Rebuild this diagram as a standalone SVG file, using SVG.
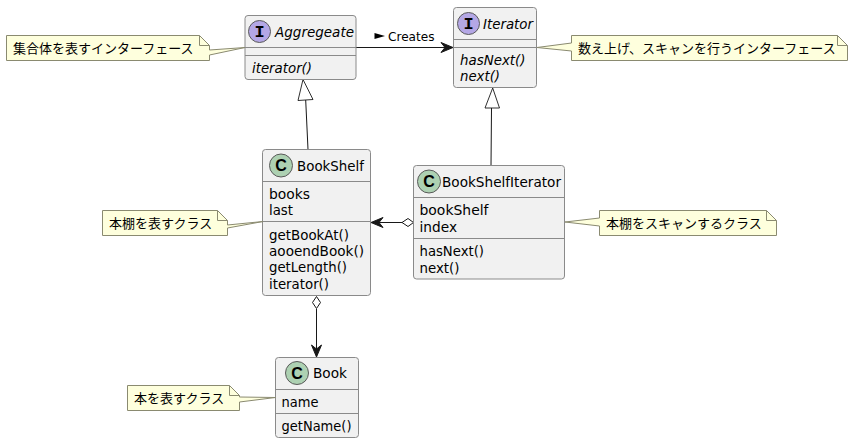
<svg xmlns="http://www.w3.org/2000/svg" width="858" height="443" viewBox="0 0 858 443">
<style>
text{font-family:"DejaVu Sans","Noto Sans CJK JP",sans-serif;fill:#000}
.m{font-size:14px}
.i{font-style:italic}
.n{font-size:13px;font-family:"Noto Sans CJK JP",sans-serif}
.b{fill:#F1F1F1;stroke:#8a8a8a;stroke-width:1}
.d{stroke:#8a8a8a;stroke-width:1;fill:none}
.note{fill:#FEFFDD;stroke:#8a8a70;stroke-width:1}
.fold{fill:none;stroke:#8a8a70;stroke-width:1}
.ci{fill:#ADD1B2;stroke:#5a5a5a;stroke-width:1}
.ii{fill:#B4A7E5;stroke:#5a5a5a;stroke-width:1}
.l{stroke:#181818;stroke-width:1;fill:none}
.g{font-size:17px;font-weight:bold;text-anchor:middle;font-family:"Liberation Mono",monospace}
.c{font-size:16px;font-weight:bold;text-anchor:middle;font-family:"Liberation Sans",sans-serif}
</style>
<g id="connectors">
<path class="l" d="M356 47.500H447"/><path d="M453 47.500L441 42.500L445 47.500L441 52.500Z" fill="#181818" stroke="#181818"/>
<path d="M374.500 33L385 36L374.500 39Z" fill="#000"/>
<text x="388" y="41" font-size="13" textLength="46.500" lengthAdjust="spacingAndGlyphs">Creates</text>
<path class="l" d="M308 149.500L305.700 100"/><path d="M303 79.500L298 100.500L313 99.500Z" fill="#fff" stroke="#181818" stroke-width="0.900"/>
<path class="l" d="M491 165.500L491.500 108"/><path d="M492.700 88L485 108H499.500Z" fill="#fff" stroke="#181818" stroke-width="0.900"/>
<path class="l" d="M376 222.500H402"/><path d="M371 222.500L383 217.500L379 222.500L383 227.500Z" fill="#181818" stroke="#181818"/>
<path d="M402 222.500L408 218.500L413.500 222.500L408 226.500Z" fill="#fff" stroke="#181818"/>
<path class="l" d="M316.500 309V351"/><path d="M316.500 296.500L320.500 302.500L316.500 308.500L312.500 302.500Z" fill="#fff" stroke="#181818"/>
<path d="M316.500 357L311.500 345L316.500 349L321.500 345Z" fill="#181818" stroke="#181818"/>
</g>
<g id="Aggregate">
<rect class="b" x="245" y="15.500" width="111" height="64" rx="3"/>
<path class="d" d="M245 47.500H356M245 55.500H356"/>
<circle class="ii" cx="259.500" cy="31.500" r="11"/><text class="g" x="259.500" y="37">I</text>
<text class="m i" x="275" y="37" textLength="79" lengthAdjust="spacingAndGlyphs">Aggregeate</text>
<text class="m i" x="252" y="73" textLength="60" lengthAdjust="spacingAndGlyphs">iterator()</text>
</g>
<g id="Iterator">
<rect class="b" x="453.500" y="7.500" width="83" height="80" rx="3"/>
<path class="d" d="M453.500 39.500H536.500M453.500 47.500H536.500"/>
<circle class="ii" cx="468.500" cy="23.500" r="11"/><text class="g" x="468.500" y="29">I</text>
<text class="m i" x="483" y="29" textLength="50" lengthAdjust="spacingAndGlyphs">Iterator</text>
<text class="m i" x="460" y="65" textLength="65.500" lengthAdjust="spacingAndGlyphs">hasNext()</text>
<text class="m i" x="460" y="81" textLength="40" lengthAdjust="spacingAndGlyphs">next()</text>
</g>
<g id="BookShelf">
<rect class="b" x="262.500" y="149.500" width="108" height="146" rx="3"/>
<path class="d" d="M262.500 181.500H370.500M262.500 221.500H370.500"/>
<circle class="ci" cx="281" cy="165.500" r="11.500"/><text class="c" x="281" y="171">C</text>
<text class="m" x="297" y="171" textLength="67" lengthAdjust="spacingAndGlyphs">BookShelf</text>
<text class="m" x="269" y="199" textLength="41" lengthAdjust="spacingAndGlyphs">books</text><text class="m" x="269" y="215" textLength="24" lengthAdjust="spacingAndGlyphs">last</text>
<text class="m" x="269" y="240" textLength="80" lengthAdjust="spacingAndGlyphs">getBookAt()</text><text class="m" x="269" y="256" textLength="95" lengthAdjust="spacingAndGlyphs">aooendBook()</text>
<text class="m" x="269" y="272" textLength="78" lengthAdjust="spacingAndGlyphs">getLength()</text><text class="m" x="269" y="289" textLength="60" lengthAdjust="spacingAndGlyphs">iterator()</text>
</g>
<g id="BookShelfIterator">
<rect class="b" x="413.500" y="165.500" width="151" height="113.500" rx="3"/>
<path class="d" d="M413.500 197.500H564.500M413.500 238.500H564.500"/>
<circle class="ci" cx="429" cy="181.500" r="11.500"/><text class="c" x="429" y="187">C</text>
<text class="m" x="442" y="187" textLength="119" lengthAdjust="spacingAndGlyphs">BookShelfIterator</text>
<text class="m" x="419.500" y="215" textLength="69" lengthAdjust="spacingAndGlyphs">bookShelf</text><text class="m" x="419.500" y="232" textLength="37.500" lengthAdjust="spacingAndGlyphs">index</text>
<text class="m" x="419.500" y="256" textLength="64.500" lengthAdjust="spacingAndGlyphs">hasNext()</text><text class="m" x="419.500" y="273" textLength="40" lengthAdjust="spacingAndGlyphs">next()</text>
</g>
<g id="Book">
<rect class="b" x="275.500" y="357.500" width="83" height="80" rx="3"/>
<path class="d" d="M275.500 389.500H358.500M275.500 413.500H358.500"/>
<circle class="ci" cx="297" cy="373" r="11.500"/><text class="c" x="297" y="378.500">C</text>
<text class="m" x="313" y="378" textLength="34" lengthAdjust="spacingAndGlyphs">Book</text>
<text class="m" x="281.500" y="407" textLength="37" lengthAdjust="spacingAndGlyphs">name</text>
<text class="m" x="281.500" y="431" textLength="70" lengthAdjust="spacingAndGlyphs">getName()</text>
</g>
<g id="note-aggregate">
<path class="note" d="M6.500 35.500H199.500L209.500 45.500V50L245 47.500L209.500 55V60.500H6.500Z"/>
<path class="fold" d="M199.500 35.500V45.500H209.500"/>
<text class="n" x="13" y="53">集合体を表すインターフェース</text>
</g>
<g id="note-iterator">
<path class="note" d="M571.500 35.500H837.500L847.500 45.500V60.500H571.500V51L537 47.500L571.500 43Z"/>
<path class="fold" d="M837.500 35.500V45.500H847.500"/>
<text class="n" x="578" y="53">数え上げ、スキャンを行うインターフェース</text>
</g>
<g id="note-bookshelf">
<path class="note" d="M102.500 210.500H217.500L227.500 220.500V225L263 221.500L227.500 228V235.500H102.500Z"/>
<path class="fold" d="M217.500 210.500V220.500H227.500"/>
<text class="n" x="109" y="228">本棚を表すクラス</text>
</g>
<g id="note-bookshelfiterator">
<path class="note" d="M599.500 210.500H766.500L776.500 220.500V235.500H599.500V226L565 222L599.500 218Z"/>
<path class="fold" d="M766.500 210.500V220.500H776.500"/>
<text class="n" x="606" y="228">本棚をスキャンするクラス</text>
</g>
<g id="note-book">
<path class="note" d="M127.500 385.500H229.500L239.500 395.500V397L275.500 397.500L239.500 402V410.500H127.500Z"/>
<path class="fold" d="M229.500 385.500V395.500H239.500"/>
<text class="n" x="134" y="403">本を表すクラス</text>
</g>
</svg>
